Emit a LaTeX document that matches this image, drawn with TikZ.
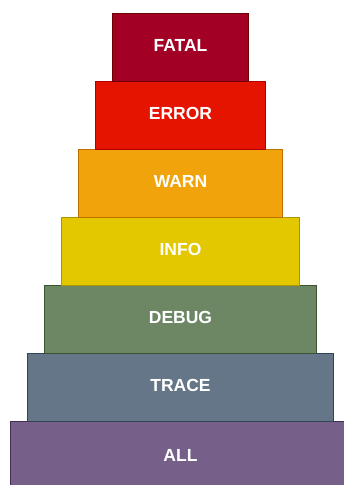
\documentclass[tikz,border=0pt]{standalone}
\usepackage{fontspec}
\setmainfont{Liberation Sans}
\definecolor{fFatal}{HTML}{A20025}\definecolor{sFatal}{HTML}{6F0000}
\definecolor{fError}{HTML}{E51400}\definecolor{sError}{HTML}{B20000}
\definecolor{fWarn}{HTML}{F0A30A}\definecolor{sWarn}{HTML}{BD7000}
\definecolor{fInfo}{HTML}{E3C800}\definecolor{sInfo}{HTML}{B09500}
\definecolor{fDebug}{HTML}{6D8764}\definecolor{sDebug}{HTML}{3A5431}
\definecolor{fTrace}{HTML}{647687}\definecolor{sTrace}{HTML}{314354}
\definecolor{fAll}{HTML}{76608A}\definecolor{sAll}{HTML}{432D57}
\tikzset{
  level/.style={rectangle, draw=#1, line width=0.8pt, anchor=north, minimum height=68pt, inner sep=0pt},
  lbl/.style={text=white, font=\fontsize{17.5}{19}\selectfont\bfseries}
}
\begin{document}
\begin{tikzpicture}[x=1pt,y=-1pt]
\useasboundingbox (0,0) rectangle (344,485);
\begin{scope}
\clip (0,0) rectangle (344,485);
\node[level=sAll, fill=fAll, minimum width=340pt] (all) at (180.5,421) {};
\node[level=sTrace, fill=fTrace, minimum width=306pt] (trace) at (180.5,353) {};
\node[level=sDebug, fill=fDebug, minimum width=272pt] (debug) at (180.5,285) {};
\node[level=sInfo, fill=fInfo, minimum width=238pt] (info) at (180.5,217) {};
\node[level=sWarn, fill=fWarn, minimum width=204pt] (warn) at (180.5,149) {};
\node[level=sError, fill=fError, minimum width=170pt] (error) at (180.5,81) {};
\node[level=sFatal, fill=fFatal, minimum width=136pt] (fatal) at (180.5,13) {};
\end{scope}
\node[lbl] (tfatal) at (180.5,45) {FATAL};
\node[lbl] (terror) at (180.5,113) {ERROR};
\node[lbl] (twarn) at (180.5,181) {WARN};
\node[lbl] (tinfo) at (180.5,249) {INFO};
\node[lbl] (tdebug) at (180.5,317) {DEBUG};
\node[lbl] (ttrace) at (180.5,385) {TRACE};
\node[lbl] (tall) at (180.5,455) {ALL};
\end{tikzpicture}
\end{document}
